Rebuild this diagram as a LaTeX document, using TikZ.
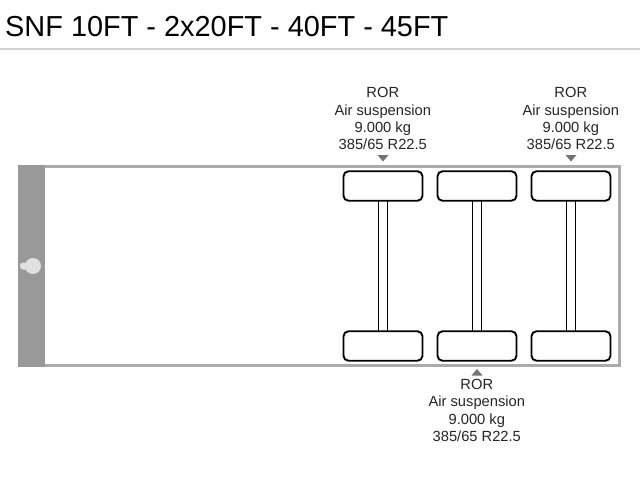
\documentclass[tikz,border=0pt]{standalone}
\usepackage{fontspec}
\setmainfont{Liberation Sans}
\usetikzlibrary{calc}
\tikzset{
 x=1pt,y=-1pt,
 wheel/.style={draw=black,line width=1.9pt,fill=white,rounded corners=5pt,minimum width=79pt,minimum height=29.5pt,inner sep=0pt,outer sep=0pt},
 spec/.style={align=center,font=\fontsize{14.7}{17.4}\selectfont,text=black!85,inner sep=0pt},
 axleline/.style={draw=black,line width=0.9pt},
 pointer/.style={fill=black!55,draw=none}
}
\definecolor{framegray}{HTML}{ABABAB}
\definecolor{bandgray}{HTML}{999999}
\definecolor{pingray}{HTML}{E0E0E0}
\begin{document}
\begin{tikzpicture}
\useasboundingbox (0,0) rectangle (640,480);
\fill[white] (0,0) rectangle (640,480);
\node[anchor=base west,inner sep=0pt,font=\fontsize{28.9}{30}\selectfont,text=black] (title) at (5,36) {SNF 10FT - 2x20FT - 40FT - 45FT};
\coordinate (rl) at (0,48.5);
\coordinate (rr) at (640,48.5);
\draw[line width=2pt,black!18] (rl) -- (rr);
% chassis
\draw[framegray,line width=3pt,fill=white] (19,166.5) rectangle (619,365.5);
\fill[bandgray] (18,165) rectangle (44.5,367);
% kingpin
\fill[pingray] (33,266) circle (8);
\fill[pingray,rounded corners=3pt] (20,262.5) rectangle (30,269.5);
% wheels
\foreach \n/\x in {a/383,b/477,c/571}{
 \node[wheel] (\n t) at (\x,186) {};
 \node[wheel] (\n b) at (\x,346) {};
 \draw[axleline] ($(\n t.south)+(-4.5,0)$) -- ($(\n b.north)+(-4.5,0)$);
 \draw[axleline] ($(\n t.south)+(4.5,0)$) -- ($(\n b.north)+(4.5,0)$);
}
% labels
\node[spec,anchor=base] (la) at (382.8,149.8) {ROR\\Air suspension\\9.000 kg\\385/65 R22.5};
\node[spec,anchor=base] (lc) at (570.8,149.8) {ROR\\Air suspension\\9.000 kg\\385/65 R22.5};
\node[spec,anchor=base] (lb) at (476.8,441.5) {ROR\\Air suspension\\9.000 kg\\385/65 R22.5};
\fill[pointer] (377.5,155) -- (388.5,155) -- (383,161.5) -- cycle;
\fill[pointer] (565.5,155) -- (576.5,155) -- (571,161.5) -- cycle;
\fill[pointer] (471.5,375.5) -- (482.5,375.5) -- (477,369) -- cycle;
\end{tikzpicture}
\end{document}
